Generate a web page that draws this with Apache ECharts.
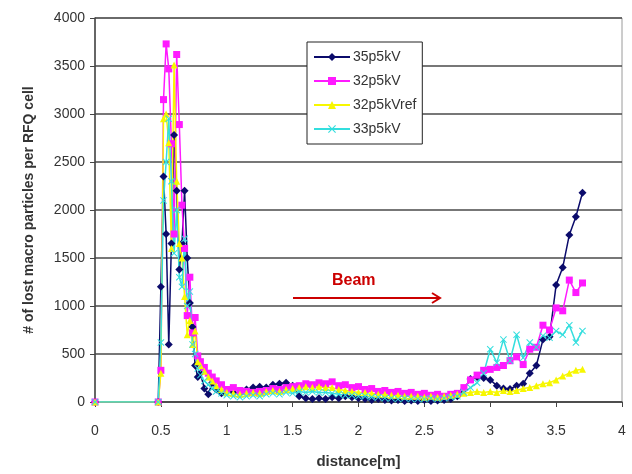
<!DOCTYPE html>
<html>
<head>
<meta charset="utf-8">
<script src="https://cdn.jsdelivr.net/npm/echarts@6/dist/echarts.min.js"></script>
<style>
  html, body { margin: 0; padding: 0; background: #fff; }
  #chart { width: 632px; height: 474px; }
</style>
</head>
<body>
<div id="chart"></div>
<script>
// distance along the RFQ [m]
const distance = [0, 0.48, 0.50, 0.52, 0.54, 0.56, 0.58, 0.60, 0.62, 0.64, 0.66, 0.68, 0.70, 0.72, 0.74, 0.76, 0.78, 0.80,
  0.83, 0.86, 0.89, 0.92, 0.96, 1.00,
  1.05, 1.10, 1.15, 1.20, 1.25, 1.30, 1.35, 1.40, 1.45, 1.50, 1.55, 1.60, 1.65, 1.70, 1.75, 1.80, 1.85, 1.90, 1.95, 2.00,
  2.05, 2.10, 2.15, 2.20, 2.25, 2.30, 2.35, 2.40, 2.45, 2.50, 2.55, 2.60, 2.65, 2.70, 2.75, 2.80, 2.85, 2.90, 2.95, 3.00,
  3.05, 3.10, 3.15, 3.20, 3.25, 3.30, 3.35, 3.40, 3.45, 3.50, 3.55, 3.60, 3.65, 3.70];

const lost35p5 = [0, 0, 1200, 2350, 1750, 600, 1650, 2780, 2200, 1380, 1650, 2200, 1500, 1030, 780, 380, 260, 300,
  140, 80, 200, 130, 90, 110,
  100, 90, 130, 150, 160, 150, 180, 190, 200, 170, 60, 40, 30, 40, 30, 50, 40, 60, 50, 40,
  30, 20, 30, 20, 15, 20, 10, 15, 10, 20, 10, 15, 20, 30, 60, 130, 240, 260, 250, 230,
  170, 140, 135, 170, 190, 300, 380, 650, 680, 1220, 1400, 1740, 1930, 2180];

const lost32p5 = [0, 0, 330, 3150, 3730, 3470, 2690, 1750, 3620, 2890, 2050, 1600, 900, 1300, 720, 880, 480, 420,
  360, 300, 260, 220, 180, 130,
  150, 120, 110, 100, 110, 120, 140, 130, 150, 160, 170, 190, 180, 200, 190, 210, 170, 180, 150, 160,
  130, 140, 110, 120, 100, 110, 90, 100, 80, 90, 70, 80, 60, 80, 90, 150, 230, 280, 330, 340,
  360, 380, 430, 470, 390, 550, 570, 800, 750, 980, 950, 1270, 1140, 1240];

const lost32p5ref = [0, 0, 300, 2950, 3000, 2700, 1600, 3510, 2300, 1650, 1500, 1100, 700, 850, 600, 740, 420, 380,
  320, 260, 220, 170, 130, 100,
  90, 80, 90, 100, 90, 110, 120, 110, 130, 140, 150, 160, 150, 160, 150, 150, 130, 120, 110, 100,
  100, 90, 80, 80, 70, 70, 60, 60, 60, 50, 60, 50, 60, 70, 80, 90, 100, 110, 100, 110,
  100, 120, 110, 120, 140, 150, 170, 190, 200, 230, 270, 300, 330, 340];

const lost33p5 = [0, 0, 620, 2100, 2500, 2950, 2300, 1550, 2000, 1300, 1200, 1700, 1000, 1150, 600, 500, 350, 280,
  220, 180, 140, 110, 90, 70,
  60, 50, 60, 70, 60, 80, 90, 80, 100, 90, 110, 100, 110, 100, 100, 90, 80, 70, 70, 60,
  60, 50, 50, 40, 40, 30, 40, 30, 30, 30, 40, 30, 40, 50, 60, 100, 150, 200, 300, 550,
  410, 650, 430, 700, 460, 620, 570, 690, 670, 740, 700, 800, 620, 740];

const seriesNames = ['35p5kV', '32p5kV', '32p5kVref', '33p5kV'];
const xTicks = [0, 0.5, 1, 1.5, 2, 2.5, 3, 3.5, 4];
const yTicks = [0, 500, 1000, 1500, 2000, 2500, 3000, 3500, 4000];

const pairs = vals => distance.map((d, i) => [d, vals[i]]);
const crossPath = 'path://M0,1 L1,0 L5,4 L9,0 L10,1 L6,5 L10,9 L9,10 L5,6 L1,10 L0,9 L4,5 Z';

const chart = echarts.init(document.getElementById('chart'), null, { renderer: 'canvas' });

function line(name, vals, color, symbol, size) {
  return {
    name: name,
    type: 'line',
    data: pairs(vals),
    symbol: symbol,
    symbolSize: size,
    showAllSymbol: true,
    lineStyle: { color: color, width: 1.5 },
    itemStyle: { color: color },
    emphasis: { disabled: true },
    animation: false
  };
}

const option = {
  animation: false,
  textStyle: { fontFamily: 'Liberation Sans, Arial, sans-serif' },
  grid: {
    left: 95, right: 10, top: 18, bottom: 69,
    show: true, borderColor: '#9a9a9a', borderWidth: 1
  },
  legend: {
    orient: 'vertical',
    left: 307, top: 42,
    padding: [8, 6, 8, 6],
    itemGap: 10,
    itemWidth: 36, itemHeight: 10,
    backgroundColor: '#fff',
    borderColor: '#222', borderWidth: 1,
    textStyle: { fontSize: 14, color: '#333', padding: [0, 0, 0, -2] },
    data: seriesNames
  },
  xAxis: {
    type: 'value',
    min: 0, max: 4, interval: 0.5,
    name: 'distance[m]',
    nameLocation: 'middle',
    nameGap: 52,
    nameTextStyle: { fontSize: 15, fontWeight: 'bold', color: '#333' },
    axisLine: { lineStyle: { color: '#444', width: 1.5 } },
    axisTick: { show: true, inside: false, length: 5, lineStyle: { color: '#444' } },
    axisLabel: {
      fontSize: 14, color: '#333', margin: 22,
      formatter: v => xTicks.indexOf(v) >= 0 ? String(v) : ''
    },
    splitLine: { show: false }
  },
  yAxis: {
    type: 'value',
    min: 0, max: 4000, interval: 500,
    name: '# of lost macro particles per RFQ cell',
    nameLocation: 'middle',
    nameGap: 59,
    nameTextStyle: { fontSize: 14, fontWeight: 'bold', color: '#333' },
    axisLine: { show: true, lineStyle: { color: '#444', width: 1.5 } },
    axisTick: { show: true, inside: false, length: 5, lineStyle: { color: '#444' } },
    axisLabel: {
      fontSize: 14, color: '#333', margin: 10,
      formatter: v => yTicks.indexOf(v) >= 0 ? String(v) : ''
    },
    splitLine: { show: true, lineStyle: { color: '#4a4a4a', width: 1.5 } }
  },
  series: [
    line(seriesNames[0], lost35p5, '#0b0b6b', 'diamond', 8),
    line(seriesNames[1], lost32p5, '#ff1aff', 'rect', 7),
    line(seriesNames[2], lost32p5ref, '#f7f700', 'triangle', 7),
    line(seriesNames[3], lost33p5, '#33dede', crossPath, 7)
  ],
  graphic: [
    {
      type: 'text', left: 332, top: 273,
      style: { text: 'Beam', fill: '#cc0000', font: 'bold 16px Liberation Sans, Arial, sans-serif' }
    },
    {
      type: 'line',
      shape: { x1: 293, y1: 298, x2: 440, y2: 298 },
      style: { stroke: '#cc0000', lineWidth: 2 }
    },
    {
      type: 'polyline',
      shape: { points: [[432, 293], [440, 298], [432, 303]] },
      style: { stroke: '#cc0000', lineWidth: 2, fill: null }
    }
  ]
};

chart.setOption(option);
</script>
</body>
</html>
